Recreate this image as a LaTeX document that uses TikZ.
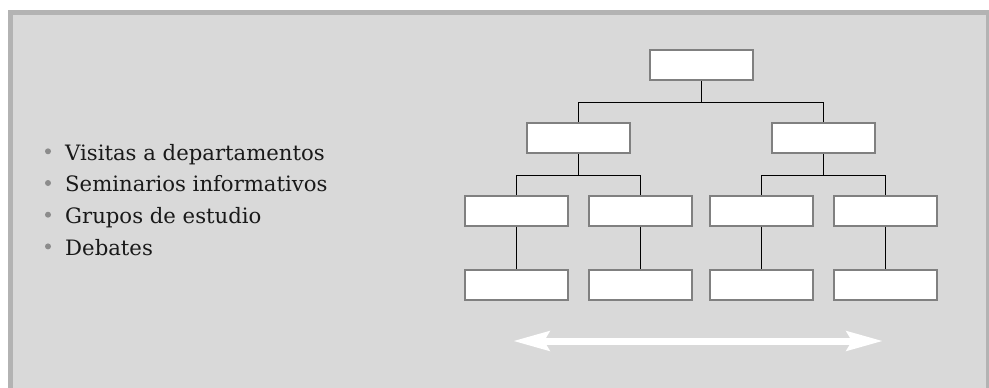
\documentclass[tikz,border=0pt]{standalone}
\usepackage{fontspec}
\setmainfont{DejaVu Serif}
\usetikzlibrary{arrows.meta}
\definecolor{panelgray}{HTML}{D9D9D9}
\definecolor{framegray}{HTML}{B3B3B3}
\definecolor{boxline}{HTML}{808080}
\definecolor{bulgray}{HTML}{8C8C8C}

\begin{document}
\begin{tikzpicture}[x=1pt, y=-1pt,
  font=\fontsize{21.2}{25}\selectfont,
  orgbox/.style={draw=boxline, line width=2pt, fill=white,
                 minimum width=103pt, minimum height=30pt, inner sep=0pt},
  link/.style={line width=0.9pt, black},
  item/.style={anchor=base west, inner sep=0pt, text=black!90},
  wide/.style={{Stealth[length=36pt,width=19pt,inset=5pt]}-{Stealth[length=36pt,width=19pt,inset=5pt]},
               line width=7pt, white}]

\useasboundingbox (0,0) rectangle (989,388);
\clip (0,0) rectangle (989,388);

% panel
\fill[white] (0,0) rectangle (989,388);
\draw[framegray, fill=panelgray, line width=5pt] (10.5,12.5) rectangle (988.5,400);

% bullet list
\foreach \t [count=\i] in {Visitas a departamentos, Seminarios informativos,
                           Grupos de estudio, Debates} {
  \fill[bulgray] (48,119.6+31.7*\i) circle (3pt);
  \node[item] (item\i) at (65,128.3+31.7*\i) {\t};
}

% tree
\node[orgbox] (top) at (701.5,65) {};
\node[orgbox] (midL) at (578.8,138) {};
\node[orgbox] (midR) at (823.8,138) {};
\foreach \n/\x in {a/516,b/640.5,c/761,d/885.7} {
  \node[orgbox] (low\n) at (\x,210.5) {};
  \node[orgbox] (base\n) at (\x,284.7) {};
}

% connectors
\draw[link] (top.south) -- ++(0,21.7) -| (midL.north);
\draw[link] (top.south) -- ++(0,21.7) -| (midR.north);
\draw[link] (midL.south) -- ++(0,21.3) -| (lowa.north);
\draw[link] (midL.south) -- ++(0,21.3) -| (lowb.north);
\draw[link] (midR.south) -- ++(0,21.3) -| (lowc.north);
\draw[link] (midR.south) -- ++(0,21.3) -| (lowd.north);
\foreach \n in {a,b,c,d} \draw[link] (low\n.south) -- (base\n.north);

% double arrow
\coordinate (arrL) at (513,341);
\coordinate (arrR) at (883,341);
\draw[wide] (arrL) -- (arrR);
\end{tikzpicture}
\end{document}
